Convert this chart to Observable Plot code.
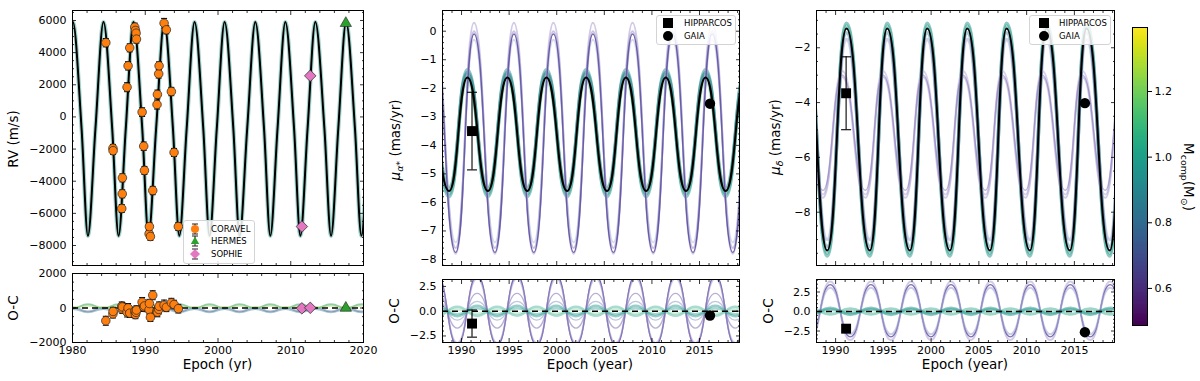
<!DOCTYPE html>
<html><head><meta charset="utf-8">
<script src="https://cdn.jsdelivr.net/npm/d3@7"></script>
<script src="https://cdn.jsdelivr.net/npm/@observablehq/plot@0.6"></script>
<style>
body{margin:0;background:#fff;font-family:"DejaVu Sans",sans-serif;}
#fig{position:relative;width:1200px;height:381px;overflow:hidden;background:#fff;}
.panel{position:absolute;}
.lab{position:absolute;white-space:nowrap;line-height:1;font-family:"DejaVu Sans",sans-serif;color:#000;}
.lab sub{font-size:70%;vertical-align:-0.3em;line-height:0;}
.legend{position:absolute;border:1px solid #d4d4d4;border-radius:3px;background:rgba(255,255,255,0.85);font-family:"DejaVu Sans",sans-serif;font-size:8.5px;color:#000;}
.legend .row{position:absolute;left:0;right:0;height:14px;}
.legend svg{position:absolute;}
.legend span{position:absolute;line-height:14px;white-space:nowrap;}
</style></head><body><div id="fig"></div><script>
// ===================== DATA =====================
// ---- RV panel (m/s) ----
const rvTicksX = [1980, 1990, 2000, 2010, 2020];
const rvTicksY = [-8000, -6000, -4000, -2000, 0, 2000, 4000, 6000];
const rvOcTicksY = [-2000, 0, 2000];
// best-fit RV model: maxima, minima, falling / rising mid-crossings
const rvPeakYears   = [1980.05, 1984.26, 1988.39, 1992.61, 1996.78, 2000.91, 2005.13, 2009.26, 2013.38, 2017.61, 2021.85];
const rvTroughYears = [1978.00, 1982.12, 1986.33, 1990.45, 1994.68, 1998.84, 2002.97, 2007.19, 2011.32, 2015.54, 2019.71];
const rvFallYears   = [1981.25, 1985.46, 1989.59, 1993.81, 1997.98, 2002.11, 2006.33, 2010.46, 2014.63, 2018.83];
const rvRiseYears   = [1978.98, 1983.15, 1987.32, 1991.49, 1995.69, 1999.83, 2004.01, 2008.18, 2012.31, 2016.53, 2020.74];
const rvPeak = 5900, rvTrough = -7400, rvMid = -750;
// O-C of posterior draws (values at RV maxima / at RV minima)
const rvOcPeakVals   = [-30, 40, 0, -60, 60];
const rvOcTroughVals = [230, -200, 160, -250, 120];
// instruments
const coravelYears = [1984.58, 1985.56, 1985.58, 1986.77, 1986.84, 1986.86, 1987.50, 1987.64, 1987.87, 1988.56, 1988.65, 1988.74, 1988.79, 1989.57, 1989.79, 1989.89, 1990.53, 1990.57, 1990.71, 1991.03, 1991.62, 1991.67, 1991.85, 1991.90, 1992.59, 1992.90, 1993.59, 1993.96, 1994.55];
const coravelRV    = [4620, -1950, -2100, -5700, -4785, -3790, 1850, 3180, 4300, 5585, 5380, 5210, 4840, 300, -1820, -3330, -7270, -6820, -7440, -4580, 770, 1400, 2680, 3180, 5830, 5420, 1580, -2210, -6820];
const coravelErr   = [260, 240, 240, 250, 250, 250, 280, 260, 250, 250, 240, 240, 250, 270, 260, 250, 250, 240, 240, 260, 280, 270, 260, 250, 300, 250, 260, 250, 250];
const coravelOC    = [-740, -340, -200, 100, -60, 60, -240, 0, -300, -200, -380, -250, -120, 340, 60, 120, -100, 260, -540, 740, -180, -240, -80, 100, 160, 40, 300, 200, -40];
const hermesYears = [2017.57], hermesRV = [5830], hermesErr = [40], hermesOC = [0];
const sophieYears = [2011.53, 2012.68], sophieRV = [-6820, 2557], sophieErr = [30, 30], sophieOC = [-20, 10];

// ---- proper-motion panels (mas/yr) ----
const pmTicksX = [1990, 1995, 2000, 2005, 2010, 2015];
const pmraTicksY = [-8, -7, -6, -5, -4, -3, -2, -1, 0];
const pmdecTicksY = [-8, -6, -4, -2];
const ocTicksY = [-2.5, 0, 2.5];
// mu_alpha*
const pmraPeakYears   = [1986.43, 1990.62, 1994.81, 1998.92, 2003.08, 2007.27, 2011.46, 2015.64, 2019.83];
const pmraTroughYears = [1984.35, 1988.69, 1992.77, 1996.90, 2001.09, 2005.28, 2009.39, 2013.58, 2017.74, 2021.90];
const pmraAltPeakYears   = [1987.13, 1991.31, 1995.50, 1999.65, 2003.80, 2007.96, 2012.15, 2016.33, 2020.50];
const pmraAltTroughYears = [1985.05, 1989.39, 1993.51, 1997.59, 2001.78, 2005.96, 2010.14, 2014.32, 2018.50];
const pmraOcPeakYears   = [1987.45, 1991.64, 1995.83, 1999.94, 2004.10, 2008.29, 2012.48, 2016.66, 2020.85];
const pmraOcTroughYears = [1985.35, 1989.55, 1993.74, 1997.89, 2002.02, 2006.19, 2010.38, 2014.57, 2018.76];
const pmraBest = [-1.62, -5.6];                  // [max, min]
const pmraBandPeaks = [-1.35, -1.5, -1.75, -1.45], pmraBandTroughs = [-5.8, -5.7, -5.45, -5.5];
const pmraAltPeaks = [0.3, 0.0, -0.3, -0.1], pmraAltTroughs = [-7.8, -7.6, -7.4, -7.75];
const pmraOcPeaks   = [3.6, 3.3, 1.8, 1.0, 0.55, -0.45, 0.3, -0.25];
const pmraOcTroughs = [-3.4, -3.2, -1.7, -0.9, -0.5, 0.45, -0.3, 0.2];
// mu_delta
const pmdecPeakYears   = [1986.95, 1991.14, 1995.40, 1999.59, 2003.78, 2007.90, 2012.08, 2016.27, 2020.45];
const pmdecTroughYears = [1984.85, 1989.12, 1993.58, 1997.77, 2001.96, 2006.15, 2010.34, 2014.52, 2018.70, 2022.90];
const pmdecAltPeakYears   = [1986.50, 1990.69, 1994.95, 1999.14, 2003.33, 2007.45, 2011.63, 2015.82, 2020.00];
const pmdecAltTroughYears = [1984.40, 1988.67, 1993.13, 1997.32, 2001.51, 2005.70, 2009.89, 2014.07, 2018.25, 2022.45];
const pmdecOcPeakYears   = [1985.25, 1989.44, 1993.70, 1997.89, 2002.08, 2006.20, 2010.38, 2014.57, 2018.75];
const pmdecOcTroughYears = [1987.34, 1991.53, 1995.79, 1999.98, 2004.17, 2008.29, 2012.47, 2016.66, 2020.84];
const pmdecBest = [-1.3, -9.4];
const pmdecBandPeaks = [-1.1, -1.2, -1.45, -1.7], pmdecBandTroughs = [-9.6, -9.5, -9.25, -9.0];
const pmdecAltPeaks = [-2.85, -3.07, -3.0], pmdecAltTroughs = [-7.35, -7.47, -7.2];
const pmdecOcPeaks   = [3.85, 3.45, 3.05, 0.45, -0.35, 0.25];
const pmdecOcTroughs = [-3.65, -3.25, -2.9, -0.4, 0.35, -0.2];
// HIPPARCOS / GAIA measurements
const astroNames = ["HIPPARCOS", "GAIA"];
const astroYears = [1991.1, 2016.1];
const pmraObs = [-3.5, -2.54], pmraErr = [1.36, 0.03];
const pmraOC = [-1.25, -0.43], pmraOcErr = [1.37, 0.03];
const pmdecObs = [-3.66, -4.02], pmdecErr = [1.33, 0.03];
const pmdecOC = [-2.2, -2.65];
// colour bar
const cbDomain = [0.487, 1.395];
const cbTicks = [0.6, 0.8, 1.0, 1.2];

// ===================== HELPERS =====================
const FONT = '"DejaVu Sans", sans-serif';
const TICKFS = 11;
const fig = document.getElementById("fig");
const fInt = d3.format("d"), f1 = d3.format(".1f");
const cap = {draw(ctx, size) { const w = Math.sqrt(size / Math.PI); ctx.moveTo(-w, 0); ctx.lineTo(w, 0); }};

function extrema(peaks, troughs, pv, tv) {
  return [...peaks.map(t => ({t, v: pv})), ...troughs.map(t => ({t, v: tv}))].sort((a, b) => a.t - b.t);
}
function curve(rows, stroke, opacity, width, type = "bump-x") {
  return Plot.line(rows, {x: "t", y: "v", stroke, strokeOpacity: opacity, strokeWidth: width, curve: type, clip: true});
}
function minorTicks(step, lo, hi, majors) {
  const out = [];
  for (let i = Math.ceil(lo / step); i * step <= hi; i++) {
    const v = +(i * step).toFixed(6);
    if (!majors.some(m => Math.abs(m - v) < 1e-6)) out.push(v);
  }
  return out;
}
function frameTicks(xMaj, xMin, yMaj, yMin) {
  const o = {fill: "none", label: null, stroke: "black", strokeWidth: 0.8};
  return [
    Plot.axisX(xMaj, {...o, anchor: "bottom", tickSize: 4, dy: -4}),
    Plot.axisX(xMaj, {...o, anchor: "top", tickSize: 4, dy: 4}),
    Plot.axisX(xMin, {...o, anchor: "bottom", tickSize: 2, dy: -2}),
    Plot.axisX(xMin, {...o, anchor: "top", tickSize: 2, dy: 2}),
    Plot.axisY(yMaj, {...o, anchor: "left", tickSize: 4, dx: 4}),
    Plot.axisY(yMaj, {...o, anchor: "right", tickSize: 4, dx: -4}),
    Plot.axisY(yMin, {...o, anchor: "left", tickSize: 2, dx: 2}),
    Plot.axisY(yMin, {...o, anchor: "right", tickSize: 2, dx: -2})
  ];
}
function yLabels(ticks, fmt) {
  return Plot.axisY(ticks, {anchor: "left", tickSize: 0, tickPadding: 6, tickFormat: fmt, label: null, fontSize: TICKFS, fill: "black"});
}
function xLabels(ticks) {
  return Plot.axisX(ticks, {anchor: "bottom", tickSize: 0, tickPadding: 4, tickFormat: fInt, label: null, fontSize: TICKFS, fill: "black"});
}
function errorBars(rows, stroke = "black", capR = 3, w = 1) {
  return [
    Plot.ruleX(rows, {x: "t", y1: d => d.v - d.e, y2: d => d.v + d.e, stroke, strokeWidth: w}),
    Plot.dot(rows, {x: "t", y: d => d.v - d.e, symbol: cap, r: capR, stroke, fill: "none", strokeWidth: w}),
    Plot.dot(rows, {x: "t", y: d => d.v + d.e, symbol: cap, r: capR, stroke, fill: "none", strokeWidth: w})
  ];
}
function addPanel({left, top, width, height, x, y, marks}) {
  const ML = 70, MR = 10, MT = 10, MB = 30;
  const svg = Plot.plot({
    width: width + ML + MR, height: height + MT + MB,
    marginLeft: ML, marginRight: MR, marginTop: MT, marginBottom: MB,
    x: {domain: x, label: null}, y: {domain: y, label: null},
    style: {fontFamily: FONT, fontSize: TICKFS + "px", color: "black", background: "transparent", overflow: "visible"},
    marks
  });
  const wrap = document.createElement("div");
  wrap.className = "panel";
  wrap.style.left = (left - ML) + "px"; wrap.style.top = (top - MT) + "px";
  wrap.style.width = (width + ML + MR) + "px";
  wrap.appendChild(svg); fig.appendChild(wrap);
}
function label(html, cx, cy, rot, size = 13.5) {
  const d = document.createElement("div");
  d.className = "lab"; d.innerHTML = html;
  d.style.left = cx + "px"; d.style.top = cy + "px"; d.style.fontSize = size + "px";
  d.style.transform = `translate(-50%,-50%) rotate(${rot}deg)`;
  fig.appendChild(d);
}
function legend(left, top, width, height, rows) {
  const box = document.createElement("div");
  box.className = "legend";
  Object.assign(box.style, {left: left + "px", top: top + "px", width: width + "px", height: height + "px"});
  box.innerHTML = rows.map(r => `<div class="row" style="top:${r.y - 7}px"><svg width="16" height="14" viewBox="-8 -7 16 14" style="left:${r.mx - 8}px;top:0">${r.glyph}</svg><span style="left:${r.tx}px">${r.text}</span></div>`).join("");
  fig.appendChild(box);
}

// ===================== RV PANEL =====================
const rvModel = [
  ...rvPeakYears.map(t => ({t, v: rvPeak})), ...rvTroughYears.map(t => ({t, v: rvTrough})),
  ...rvFallYears.map(t => ({t, v: rvMid})), ...rvRiseYears.map(t => ({t, v: rvMid}))
].sort((a, b) => a.t - b.t);
const coravel = coravelYears.map((t, i) => ({t, v: coravelRV[i], e: coravelErr[i], oc: coravelOC[i]}));
const hermes = hermesYears.map((t, i) => ({t, v: hermesRV[i], e: hermesErr[i], oc: hermesOC[i]}));
const sophie = sophieYears.map((t, i) => ({t, v: sophieRV[i], e: sophieErr[i], oc: sophieOC[i]}));
const asOC = rows => rows.map(d => ({t: d.t, v: d.oc, e: d.e}));

const rvX = [1980, 2020], rvY = [-9244, 6622], rvOcY = [-2000, 2000];
const rvMinX = minorTicks(2, 1980, 2020, rvTicksX);
addPanel({left: 72, top: 10, width: 291, height: 255, x: rvX, y: rvY, marks: [
  curve(rvModel, "#2a9d8f", 0.45, 4.2, "monotone-x"),
  curve(rvModel, "black", 1, 2, "monotone-x"),
  ...errorBars(coravel), Plot.dot(coravel, {x: "t", y: "v", r: 4.3, fill: "#ff7f0e", stroke: "#222", strokeWidth: 0.7}),
  ...errorBars(hermes), Plot.dot(hermes, {x: "t", y: "v", symbol: "triangle", r: 4.2, fill: "#2ca02c", stroke: "#222", strokeWidth: 0.6}),
  ...errorBars(sophie), Plot.dot(sophie, {x: "t", y: "v", symbol: "diamond2", r: 5.2, fill: "#e377c2", stroke: "#222", strokeWidth: 0.7}),
  Plot.frame({stroke: "black", strokeWidth: 1}),
  ...frameTicks(rvTicksX, rvMinX, rvTicksY, minorTicks(500, rvY[0], rvY[1], rvTicksY)),
  yLabels(rvTicksY, fInt)
]});
const rvOcColors = ["#21918c", "#3b528b", "#5ec962", "#2c728e", "#b5de2b"];
const rvOcOpacity = [0.45, 0.4, 0.3, 0.4, 0.3];
addPanel({left: 72, top: 273, width: 291, height: 69, x: rvX, y: rvOcY, marks: [
  ...rvOcPeakVals.map((p, i) => curve(extrema(rvPeakYears, rvTroughYears, p, rvOcTroughVals[i]), rvOcColors[i], rvOcOpacity[i], 1.8)),
  Plot.ruleY([0], {stroke: "black", strokeWidth: 1.6, strokeDasharray: "6,4"}),
  ...errorBars(asOC(coravel)), Plot.dot(asOC(coravel), {x: "t", y: "v", r: 4.3, fill: "#ff7f0e", stroke: "#222", strokeWidth: 0.7}),
  ...errorBars(asOC(hermes)), Plot.dot(asOC(hermes), {x: "t", y: "v", symbol: "triangle", r: 4.2, fill: "#2ca02c", stroke: "#222", strokeWidth: 0.6}),
  ...errorBars(asOC(sophie)), Plot.dot(asOC(sophie), {x: "t", y: "v", symbol: "diamond2", r: 5.2, fill: "#e377c2", stroke: "#222", strokeWidth: 0.7}),
  Plot.frame({stroke: "black", strokeWidth: 1}),
  ...frameTicks(rvTicksX, rvMinX, rvOcTicksY, minorTicks(500, -2000, 2000, rvOcTicksY)),
  yLabels(rvOcTicksY, fInt), xLabels(rvTicksX)
]});
label("RV (m/s)", 13.5, 139, -90);
label("O-C", 13.5, 308, -90);
label("Epoch (yr)", 217.5, 365, 0);
const bar = `<line x1="0" y1="-5" x2="0" y2="5" stroke="#222" stroke-width="1"/><line x1="-3" y1="-5" x2="3" y2="-5" stroke="#222"/><line x1="-3" y1="5" x2="3" y2="5" stroke="#222"/>`;
legend(183, 220, 70, 42, [
  {y: 7.5, mx: 10.5, tx: 27, text: "CORAVEL", glyph: bar + `<circle r="4" fill="#ff7f0e"/>`},
  {y: 20, mx: 10.5, tx: 27, text: "HERMES", glyph: bar + `<path d="M0,-4.5L4.2,3L-4.2,3Z" fill="#2ca02c"/>`},
  {y: 32.5, mx: 10.5, tx: 27, text: "SOPHIE", glyph: bar + `<path d="M0,-5L5,0L0,5L-5,0Z" fill="#e377c2"/>`}
]);

// ===================== PROPER-MOTION PANELS =====================
const pmX = [1988, 2019.2];
const pmMinX = minorTicks(1, 1988, 2019.2, pmTicksX);
const astro = (obs, err) => astroNames.map((n, i) => ({n, t: astroYears[i], v: obs[i], e: err ? err[i] : 0}));
function pmPanel(o) {
  const best = extrema(o.peakYears, o.troughYears, o.best[0], o.best[1]);
  const pts = astro(o.obs, o.err);
  addPanel({left: o.left, top: 10, width: o.width, height: 255, x: pmX, y: o.y, marks: [
    ...o.bandPeaks.map((p, i) => curve(extrema(o.peakYears, o.troughYears, p, o.bandTroughs[i]), o.bandColors[i], o.bandOpacity[i], 3.4)),
    ...o.altPeaks.map((p, i) => curve(extrema(o.altPeakYears, o.altTroughYears, p, o.altTroughs[i]), o.altColors[i], o.altOpacity[i], o.altWidth[i])),
    curve(best, "black", 1, 2),
    ...errorBars(pts.filter(d => d.e > 0.1), "black", 5, 1.1),
    Plot.dot(pts.filter(d => d.n === "HIPPARCOS"), {x: "t", y: "v", symbol: "square", r: 5.6, fill: "black"}),
    Plot.dot(pts.filter(d => d.n === "GAIA"), {x: "t", y: "v", r: 5.2, fill: "black"}),
    Plot.frame({stroke: "black", strokeWidth: 1}),
    ...frameTicks(pmTicksX, pmMinX, o.ticksY, minorTicks(o.minorStep, o.y[0], o.y[1], o.ticksY)),
    yLabels(o.ticksY, fInt)
  ]});
  const ocPts = astro(o.oc, o.ocErr);
  addPanel({left: o.left, top: 279, width: o.width, height: 63, x: pmX, y: o.ocY, marks: [
    ...o.ocPeaks.map((p, i) => curve(extrema(o.ocPeakYears, o.ocTroughYears, p, o.ocTroughs[i]), o.ocColors[i], o.ocOpacity[i], o.ocWidth[i])),
    Plot.ruleY([0], {stroke: "black", strokeWidth: 1.6, strokeDasharray: "6,4"}),
    ...errorBars(ocPts.filter(d => d.e > 0.1), "black", 5, 1.1),
    Plot.dot(ocPts.filter(d => d.n === "HIPPARCOS"), {x: "t", y: "v", symbol: "square", r: 5.6, fill: "black"}),
    Plot.dot(ocPts.filter(d => d.n === "GAIA"), {x: "t", y: "v", r: 5.2, fill: "black"}),
    Plot.frame({stroke: "black", strokeWidth: 1}),
    ...frameTicks(pmTicksX, pmMinX, ocTicksY, minorTicks(0.5, o.ocY[0], o.ocY[1], ocTicksY)),
    yLabels(ocTicksY, f1), xLabels(pmTicksX)
  ]});
}
pmPanel({
  left: 442, width: 297, y: [-8.21, 0.725], ocY: [-3.16, 3.2], ticksY: pmraTicksY, minorStep: 0.2,
  peakYears: pmraPeakYears, troughYears: pmraTroughYears, best: pmraBest,
  bandPeaks: pmraBandPeaks, bandTroughs: pmraBandTroughs,
  bandColors: ["#21918c", "#1fa088", "#3bbb75", "#2c728e"], bandOpacity: [0.5, 0.45, 0.35, 0.4],
  altPeakYears: pmraAltPeakYears, altTroughYears: pmraAltTroughYears, altPeaks: pmraAltPeaks, altTroughs: pmraAltTroughs,
  altColors: ["#b4a7d6", "#9d90c8", "#b8c4e0", "#5a4a9e"], altOpacity: [0.6, 0.55, 0.6, 0.85], altWidth: [2, 2, 2, 1.4],
  obs: pmraObs, err: pmraErr, oc: pmraOC, ocErr: pmraOcErr,
  ocPeakYears: pmraOcPeakYears, ocTroughYears: pmraOcTroughYears, ocPeaks: pmraOcPeaks, ocTroughs: pmraOcTroughs,
  ocColors: ["#5a4a9e", "#a597cc", "#7d70b3", "#7b8fc0", "#21918c", "#2ba58a", "#1f9e89", "#6cce9e"],
  ocOpacity: [0.9, 0.55, 0.55, 0.5, 0.45, 0.4, 0.4, 0.35], ocWidth: [1.4, 1.8, 1.3, 1.3, 2.5, 2.5, 2.5, 2.5]
});
pmPanel({
  left: 816, width: 298, y: [-9.945, -0.64], ocY: [-3.97, 4.1], ticksY: pmdecTicksY, minorStep: 0.5,
  peakYears: pmdecPeakYears, troughYears: pmdecTroughYears, best: pmdecBest,
  bandPeaks: pmdecBandPeaks, bandTroughs: pmdecBandTroughs,
  bandColors: ["#21918c", "#1fa088", "#2c728e", "#8f8fc6"], bandOpacity: [0.5, 0.4, 0.4, 0.4],
  altPeakYears: pmdecAltPeakYears, altTroughYears: pmdecAltTroughYears, altPeaks: pmdecAltPeaks, altTroughs: pmdecAltTroughs,
  altColors: ["#b9add8", "#a89cce", "#8878bb"], altOpacity: [0.55, 0.5, 0.55], altWidth: [2, 2, 1.3],
  obs: pmdecObs, err: pmdecErr, oc: pmdecOC, ocErr: null,
  ocPeakYears: pmdecOcPeakYears, ocTroughYears: pmdecOcTroughYears, ocPeaks: pmdecOcPeaks, ocTroughs: pmdecOcTroughs,
  ocColors: ["#b5a9d6", "#5a4a9e", "#a4aad6", "#21918c", "#2ba58a", "#1f9e89"],
  ocOpacity: [0.6, 0.8, 0.6, 0.5, 0.45, 0.45], ocWidth: [2, 1.3, 2, 3, 3, 3]
});
label("<i>μ</i><sub><i>α</i>*</sub> (mas/yr)", 396, 140, -90);
label("O-C", 395, 311, -90);
label("Epoch (year)", 590, 365, 0);
label("<i>μ</i><sub><i>δ</i></sub> (mas/yr)", 776, 137, -90);
label("O-C", 769, 311, -90);
label("Epoch (year)", 965, 365, 0);
const pmGlyphs = [`<rect x="-5" y="-5" width="10" height="10" fill="black"/>`, `<circle r="5" fill="black"/>`];
legend(656, 15, 78, 28, [
  {y: 7.3, mx: 11.3, tx: 27, text: "HIPPARCOS", glyph: pmGlyphs[0]},
  {y: 19.7, mx: 11.3, tx: 27, text: "GAIA", glyph: pmGlyphs[1]}
]);
legend(1029, 15, 80, 28, [
  {y: 7.3, mx: 13.7, tx: 29, text: "HIPPARCOS", glyph: pmGlyphs[0]},
  {y: 19.7, mx: 13.7, tx: 29, text: "GAIA", glyph: pmGlyphs[1]}
]);

// ===================== COLOUR BAR =====================
const cbSteps = d3.range(cbDomain[0], cbDomain[1], 0.004);
{
  const svg = Plot.plot({
    width: 15 + 50, height: 298 + 20, marginLeft: 0, marginRight: 50, marginTop: 10, marginBottom: 10,
    x: {domain: [0, 1], axis: null}, y: {domain: cbDomain, axis: null},
    color: {type: "linear", scheme: "viridis", domain: cbDomain},
    style: {fontFamily: FONT, fontSize: TICKFS + "px", color: "black", background: "transparent", overflow: "visible"},
    marks: [
      Plot.rect(cbSteps, {x1: 0, x2: 1, y1: d => d, y2: d => Math.min(d + 0.006, cbDomain[1]), fill: d => d, shapeRendering: "crispEdges"}),
      Plot.frame({stroke: "black", strokeWidth: 1}),
      Plot.axisY(cbTicks, {anchor: "right", tickSize: 4, tickPadding: 3, tickFormat: f1, label: null, fontSize: TICKFS, stroke: "black", fill: "black"})
    ]
  });
  const wrap = document.createElement("div");
  wrap.className = "panel"; wrap.style.left = "1132px"; wrap.style.top = "17px"; wrap.style.width = "65px";
  wrap.appendChild(svg); fig.appendChild(wrap);
}
label("M<sub>comp</sub>(M<sub>⊙</sub>)", 1188, 177, 90);
</script></body></html>
